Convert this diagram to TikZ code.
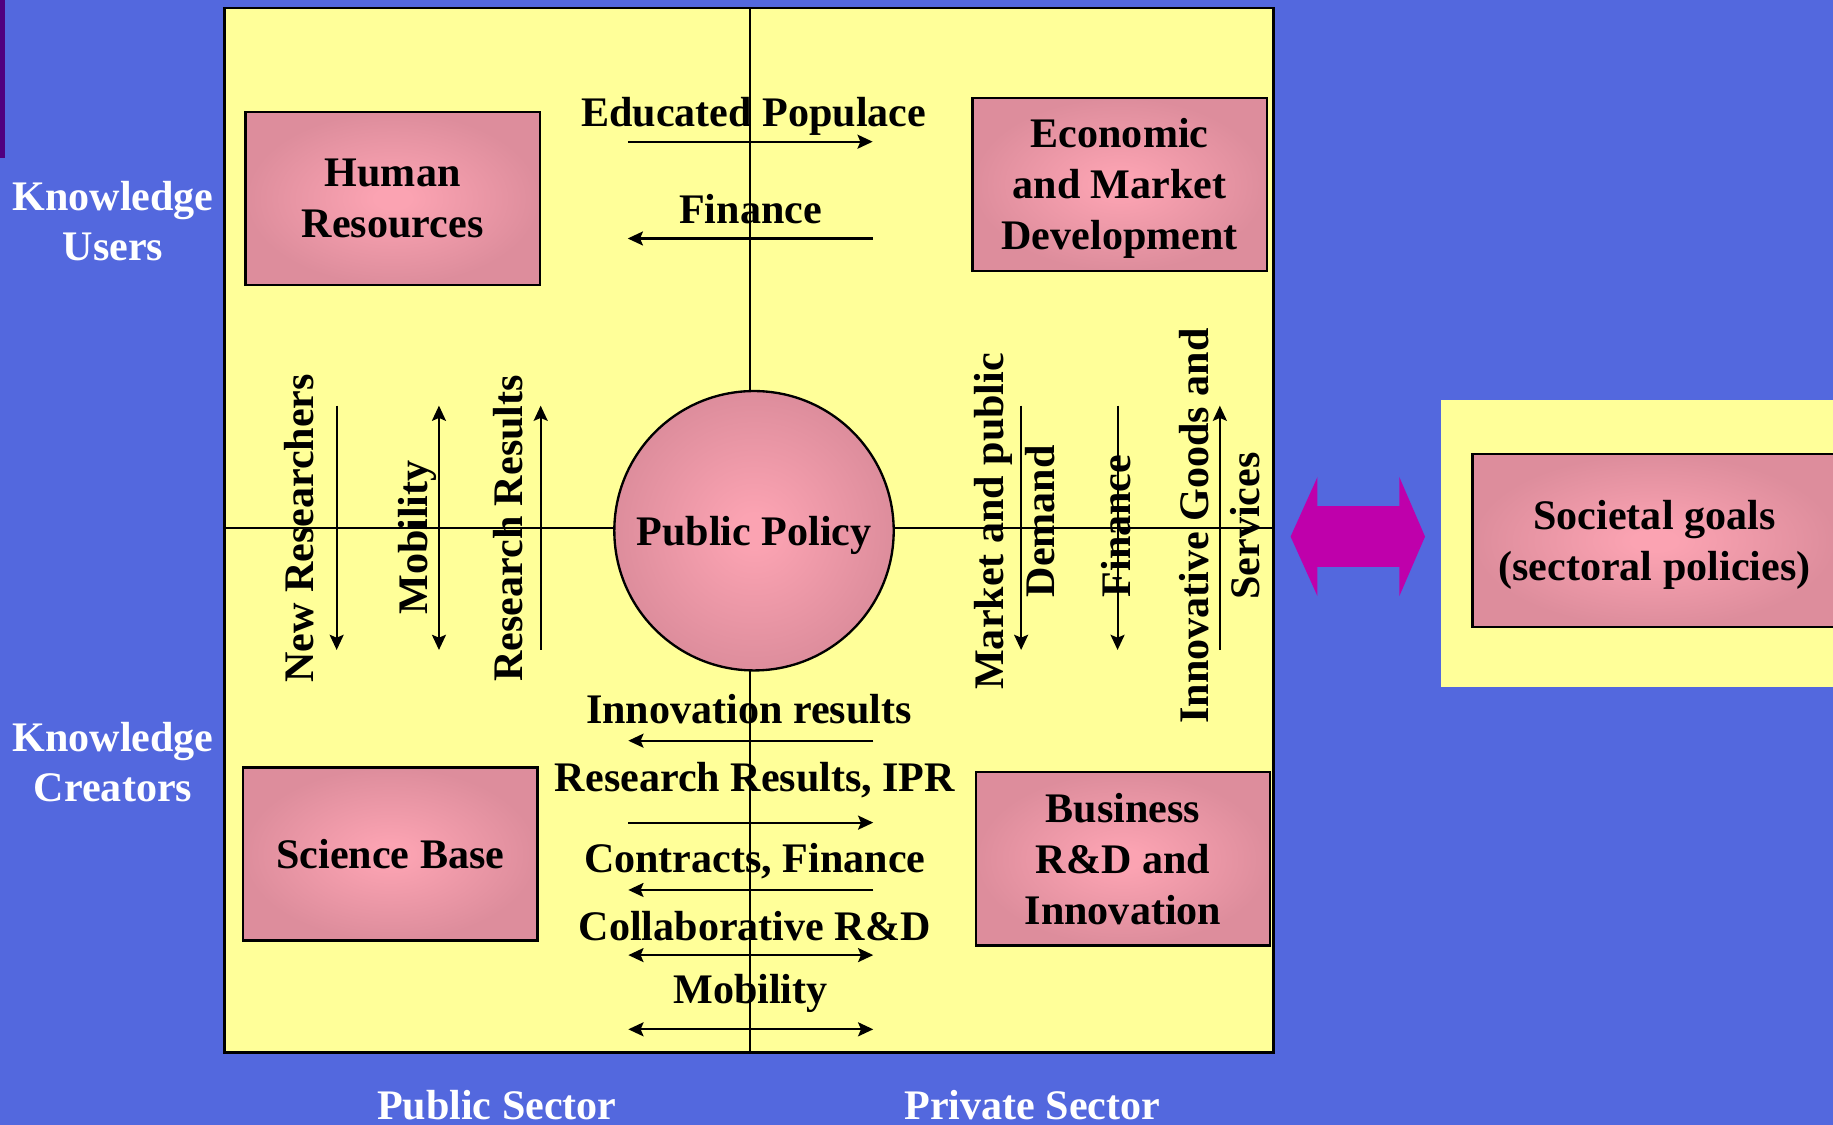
\documentclass[tikz,border=0pt]{standalone}
\usepackage{fontspec}
\setmainfont{Liberation Serif}
\usetikzlibrary{arrows.meta}

\definecolor{slide}{RGB}{83,104,222}
\definecolor{band}{RGB}{80,0,128}
\definecolor{paper}{RGB}{255,255,153}
\definecolor{rosein}{RGB}{251,163,178}
\definecolor{roseout}{RGB}{221,141,156}
\definecolor{linkmag}{RGB}{191,0,171}

% soft pink glow used inside the boxes and the central disc
\pgfdeclareradialshading{roseglow}{\pgfpoint{0bp}{0bp}}{%
  color(0bp)=(rosein); color(3bp)=(rosein); color(25bp)=(roseout); color(50bp)=(roseout)}

\begin{document}
\begin{tikzpicture}[x=1pt,y=-1pt,
  >={Stealth[length=13pt,width=12pt,inset=2.5pt]},
  every node/.style={inner sep=0pt, outer sep=0pt,
    font=\bfseries\fontsize{36}{43.5}\selectfont},
  rosebox/.style={draw=black, line width=2pt, shade, shading=roseglow,
    minimum width=252pt, minimum height=148pt, align=center, text depth=0pt},
  flow/.style={line width=1.8pt},
  axis/.style={line width=1.8pt},
  lbl/.style={anchor=base},
  vlbl/.style={rotate=90, align=center, text depth=0pt},
  sidelbl/.style={text=white, align=center, text depth=0pt}]

\useasboundingbox (0,0) rectangle (1568,962);
\clip (0,0) rectangle (1568,962);

% slide background and corner band
\fill[slide] (0,0) rectangle (1568,962);
\fill[band] (0,0) rectangle (4.3,135.5);

% main field with its two axes
\node[draw=black, line width=2.2pt, fill=paper,
      minimum width=897.5pt, minimum height=893.5pt] (field) at (640.75,453.75) {};
\coordinate (hub) at (641.5,452);
\draw[axis] (field.north -| hub) -- (field.south -| hub);
\draw[axis] (field.west |- hub) -- (field.east |- hub);

% central disc
\node[circle, draw=black, line width=2pt, shade, shading=roseglow,
      minimum size=239pt, text depth=0pt] (pp) at (645,454) {Public Policy};

% four actor boxes
\node[rosebox] (hr)  at (335.9,169.7)   {Human\\Resources};
\node[rosebox] (eco) at (957.75,157.55) {Economic\\and Market\\Development};
\node[rosebox] (sci) at (333.8,730.4)   {Science Base};
\node[rosebox] (bus) at (960.65,734.65) {Business\\R\&D and\\Innovation};

% societal goals panel on the right
\node[fill=paper, minimum width=347.3pt, minimum height=245.8pt] (panel) at (1406.35,465.1) {};
\node[rosebox, minimum width=311.5pt] (soc) at (1415.25,462.5) {Societal goals\\(sectoral policies)};

% two-way link between the field and the societal goals
\fill[linkmag] (1104,459) -- (1127,408) -- (1127,433) -- (1197,433) -- (1197,408)
  -- (1219,459) -- (1197,510) -- (1197,485) -- (1127,485) -- (1127,510) -- cycle;

% flow end points: horizontal flows across the vertical axis
\coordinate (eduW) at (537,121.2);   \coordinate (eduE) at (746.5,121.2);
\coordinate (finW) at (537,204);     \coordinate (finE) at (746.5,204);
\coordinate (innW) at (537.5,633.6); \coordinate (innE) at (747,633.6);
\coordinate (rriW) at (537.5,703.7); \coordinate (rriE) at (747,703.7);
\coordinate (conW) at (537.5,761.3); \coordinate (conE) at (747,761.3);
\coordinate (colW) at (537.5,817);   \coordinate (colE) at (747,817);
\coordinate (mobW) at (537.5,880.5); \coordinate (mobE) at (747,880.5);

\draw[flow,->] (eduW) -- (eduE);
\draw[flow,->] (finE) -- (finW);
\draw[flow,->] (innE) -- (innW);
\draw[flow,->] (rriW) -- (rriE);
\draw[flow,->] (conE) -- (conW);
\draw[flow,<->] (colW) -- (colE);
\draw[flow,<->] (mobW) -- (mobE);

% flow end points: vertical flows across the horizontal axis
\coordinate (newN) at (288,347);    \coordinate (newS) at (288,556);
\coordinate (mbvN) at (375.5,347);  \coordinate (mbvS) at (375.5,556);
\coordinate (resN) at (462.5,347);  \coordinate (resS) at (462.5,556);
\coordinate (mktN) at (873.5,347);  \coordinate (mktS) at (873.5,556);
\coordinate (fnvN) at (956,347);    \coordinate (fnvS) at (956,556);
\coordinate (igsN) at (1043.5,347); \coordinate (igsS) at (1043.5,556);

\draw[flow,->] (newN) -- (newS);
\draw[flow,<->] (mbvN) -- (mbvS);
\draw[flow,->] (resS) -- (resN);
\draw[flow,->] (mktN) -- (mktS);
\draw[flow,->] (fnvN) -- (fnvS);
\draw[flow,->] (igsS) -- (igsN);

% flow labels
\node[lbl] (tEdu)  at (644.8,108.4) {Educated Populace};
\node[lbl] (tFinT) at (642,191)     {Finance};
\node[lbl] (tInn)  at (640.6,618.8) {Innovation results};
\node[lbl] (tRri)  at (645.9,676.7) {Research Results, IPR};
\node[lbl] (tCon)  at (645.6,746.5) {Contracts, Finance};
\node[lbl] (tCol)  at (645.6,804.1) {Collaborative R\&D};
\node[lbl] (tMobB) at (642,858.8)   {Mobility};

\node[vlbl] (tNew)  at (256,452)     {New Researchers};
\node[vlbl] (tMobL) at (353.6,459.8) {Mobility};
\node[vlbl] (tRes)  at (434.5,452)   {Research Results};
\node[vlbl] (tMkt)  at (868,446)     {Market and public\\Demand};
\node[vlbl] (tFinR) at (954.5,450)   {Finance};
\node[vlbl] (tIgs)  at (1043,450)    {Innovative Goods and\\Services};

% row and column captions
\node[sidelbl] (kUsers)    at (96.7,189)   {Knowledge\\Users};
\node[sidelbl] (kCreators) at (96.7,651.8) {Knowledge\\Creators};
\node[lbl, text=white] (pubS) at (425,958) {Public Sector};
\node[lbl, text=white] (priS) at (883,958) {Private Sector};
\end{tikzpicture}
\end{document}
